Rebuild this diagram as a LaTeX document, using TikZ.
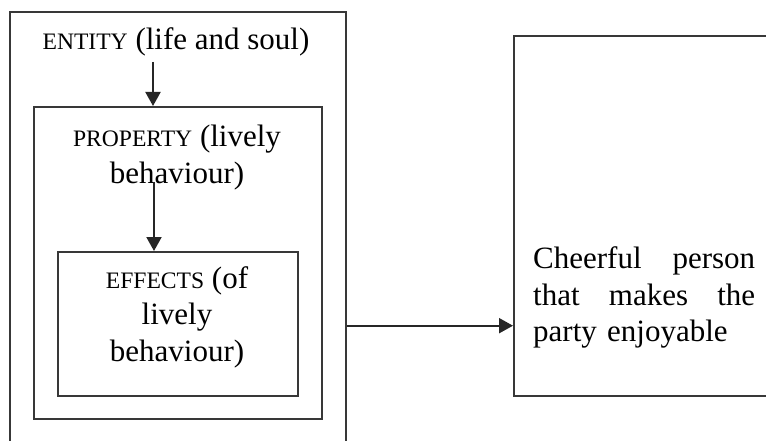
\documentclass[tikz,border=0pt]{standalone}
\usepackage{fontspec}
\setmainfont{Liberation Serif}
\usetikzlibrary{arrows.meta}
% reduced-size capitals for the headings
\newcommand\capsize[1]{{\fontsize{23.6pt}{36.7pt}\selectfont #1}}
\begin{document}
\begin{tikzpicture}[x=1pt,y=-1pt,
  panel/.style={draw=black!78, line width=2pt, inner sep=0pt, fill=none},
  caption/.style={inner sep=0pt, align=center, text=black,
    font=\fontsize{31pt}{36.7pt}\selectfont},
  flow/.style={draw=black!85, line width=2pt,
    -{Triangle[length=14pt,width=15pt]}}
]
\useasboundingbox (0,0) rectangle (766,441);
\fill[white] (0,0) rectangle (766,441);
\clip (0,0) rectangle (766,441);

% nested boxes
\node[panel, minimum width=336pt, minimum height=448pt] (entity) at (178,236) {};
\node[panel, minimum width=288pt, minimum height=312pt] (property) at (178,263) {};
\node[panel, minimum width=240pt, minimum height=144pt] (effects) at (178,324) {};
\node[panel, minimum width=300pt, minimum height=359.5pt, anchor=north west] (result) at (513,35.5) {};

% texts (base anchor = baseline of the last line for centred captions)
\node[caption, anchor=base] (entitytext) at (176,49.5) {\capsize{ENTITY} (life and soul)};
\node[caption, anchor=base] (propertytext) at (177,183.3) {\capsize{PROPERTY} (lively\\behaviour)};
\node[caption, anchor=base] (effectstext) at (177,361.5) {\capsize{EFFECTS} (of\\lively\\behaviour)};
% justified paragraph (base anchor = first line)
\node[inner sep=0pt, anchor=base west, text width=222pt, align=left,
  font=\fontsize{31pt}{36.7pt}\selectfont] (resulttext) at (533,268.3)
  {\makebox[222pt][l]{Cheerful\hfill person}\\\makebox[222pt][l]{that\hfill makes\hfill the}\\party enjoyable};

% connectors
\coordinate (e1) at (153,62);
\draw[flow] (e1) -- (e1 |- property.north);
\coordinate (p1) at (154,182);
\draw[flow] (p1) -- (p1 |- effects.north);
\coordinate (h1) at (entity.east |- 0,325.7);
\draw[flow] (h1) -- (h1 -| result.west);
\end{tikzpicture}
\end{document}
